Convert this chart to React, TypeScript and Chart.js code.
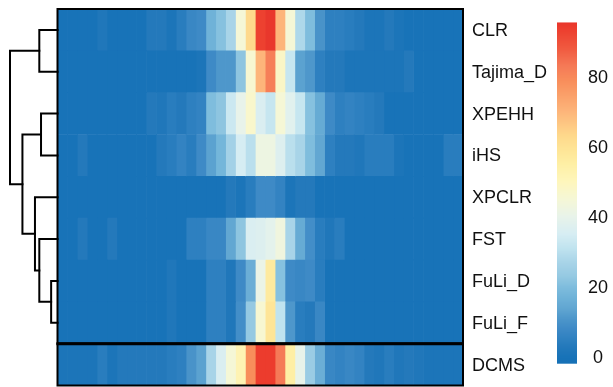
import React, { useEffect, useRef } from 'react';
import { Chart, registerables } from 'chart.js';

Chart.register(...registerables);

// ---------- data ----------
const rowLabels = ['CLR', 'Tajima_D', 'XPEHH', 'iHS', 'XPCLR', 'FST', 'FuLi_D', 'FuLi_F', 'DCMS'];

const CLR = [0, 0, 0, 0, 2, 0, 0, 0, 0, 3, 3, 1, 4, 7, 8, 17, 21, 27, 45, 63, 93, 95, 70, 45, 28, 20, 10, 5, 5, 4, 3, 1, 1, 3, 1, 0, 0, 0, 0, 0, 0];
const Tajima_D = [0, 0, 0, 0, 0, 0, 0, 0, 0, 0, 0, 0, 0, 0, 1, 8, 11, 11, 22, 46, 70, 82, 48, 32, 13, 11, 5, 3, 3, 1, 1, 1, 1, 1, 1, 3, 0, 0, 0, 0, 0];
const XPEHH = [0, 0, 0, 0, 0, 0, 0, 0, 0, 3, 2, 4, 3, 5, 6, 20, 22, 33, 40, 47, 36, 32, 45, 38, 32, 21, 15, 8, 5, 6, 5, 4, 3, 0, 0, 0, 0, 0, 0, 0, 0];
const iHS = [0, 0, 3, 0, 0, 0, 0, 0, 0, 0, 3, 4, 6, 4, 8, 13, 18, 26, 35, 30, 42, 42, 37, 30, 27, 20, 14, 5, 3, 3, 2, 4, 4, 4, 1, 0, 0, 0, 0, 4, 4];
const XPCLR = [0, 0, 0, 0, 0, 0, 0, 0, 0, 0, 0, 0, 0, 0, 0, 0, 0, 3, 1, 4, 8, 8, 6, 1, 3, 3, 0, 0, 0, 0, 0, 0, 0, 0, 0, 0, 0, 0, 0, 0, 0];
const FST = [0, 0, 3, 0, 0, 3, 0, 0, 0, 0, 0, 0, 0, 5, 5, 7, 7, 14, 22, 36, 37, 39, 43, 27, 15, 9, 4, 2, 4, 0, 0, 0, 0, 0, 0, 0, 0, 0, 0, 0, 0];
const FuLi_D = [0, 0, 0, 0, 0, 0, 0, 0, 0, 0, 0, 2, 0, 0, 0, 5, 5, 2, 8, 16, 41, 57, 21, 8, 7, 8, 4, 0, 0, 0, 0, 0, 0, 0, 0, 0, 0, 0, 0, 0, 0];
const FuLi_F = [0, 0, 0, 0, 0, 0, 0, 0, 0, 0, 0, 2, 0, 0, 0, 5, 5, 2, 9, 23, 46, 59, 31, 11, 4, 3, 7, 0, 0, 0, 0, 0, 0, 0, 0, 0, 0, 0, 0, 0, 0];
const DCMS = [1, 1, 1, 1, 4, 1, 3, 3, 3, 3, 3, 4, 5, 10, 13, 27, 36, 45, 52, 79, 94, 94, 83, 55, 40, 24, 16, 7, 6, 7, 6, 3, 2, 4, 2, 3, 2, 1, 1, 1, 1];

const rowValues = [CLR, Tajima_D, XPEHH, iHS, XPCLR, FST, FuLi_D, FuLi_F, DCMS];
const mainRowCount = 8;

const legendTicks = [0, 20, 40, 60, 80];
const colorMin = -2;
const colorMax = 95.5;

// hclust-style dendrogram (negative = leaf index+1, positive = earlier merge)
const dendroMerge = [[-7, -8], [-3, -4], [-1, -2], [-6, 1], [-5, 4], [2, 5], [3, 6]];
const dendroHeight = [0.63, 1.63, 1.8, 1.8, 2.23, 3.47, 4.7];

// ---------- colour scale ----------
const colorStops: [number, string][] = [
  [-2, '#1570B6'], [0, '#1873B8'], [3, '#2479BB'], [5, '#2E80C0'], [8, '#3E8AC6'],
  [11, '#4E97CB'], [14, '#62A7D2'], [17, '#6FB2D8'], [20, '#7FBDDD'], [23, '#95C9E2'],
  [27, '#A8D4E8'], [31, '#C0E3EF'], [35, '#D6EDF3'], [40, '#E8F3EA'], [45, '#F5F7D6'],
  [50, '#FEF6BC'], [55, '#FEEFA5'], [59, '#FEE597'], [63, '#FED98C'], [70, '#FDB57A'],
  [79, '#F88D5B'], [83, '#F57A57'], [88, '#F05A40'], [94, '#EC3C2D'], [95.5, '#E8352B'],
];
function hexRgb(h: string) {
  return [parseInt(h.slice(1, 3), 16), parseInt(h.slice(3, 5), 16), parseInt(h.slice(5, 7), 16)];
}
function colorFor(v: number) {
  if (v <= colorStops[0][0]) return colorStops[0][1];
  for (let i = 1; i < colorStops.length; i++) {
    if (v <= colorStops[i][0]) {
      const [v0, c0] = colorStops[i - 1];
      const [v1, c1] = colorStops[i];
      const t = (v - v0) / (v1 - v0);
      const a = hexRgb(c0), b = hexRgb(c1);
      const r = a.map((x, k) => Math.round(x + (b[k] - x) * t));
      return `rgb(${r[0]},${r[1]},${r[2]})`;
    }
  }
  return colorStops[colorStops.length - 1][1];
}

export default function App() {
  const ref = useRef<HTMLCanvasElement>(null);
  useEffect(() => {
    const canvas = ref.current!;
    const nCols = rowValues[0].length;
    const datasets = Array.from({ length: nCols }, (_, c) => ({
      label: 'c' + c,
      data: rowValues.map(() => 1),
      backgroundColor: rowValues.map((r) => colorFor(r[c])),
      borderWidth: 0,
      barPercentage: 1,
      categoryPercentage: 1,
      stack: 'heat',
    }));

    const overlay = {
      id: 'overlay',
      afterDraw(chart: any) {
        const ctx = chart.ctx as CanvasRenderingContext2D;
        const { left, right, top, bottom } = chart.chartArea;
        const ys = chart.scales.y;
        const rowH = (bottom - top) / rowLabels.length;
        const sepY = top + mainRowCount * rowH;
        ctx.save();
        // borders
        ctx.strokeStyle = '#000';
        ctx.lineWidth = 2;
        ctx.strokeRect(left, top, right - left, sepY - top);
        ctx.strokeRect(left, sepY, right - left, bottom - sepY);
        ctx.lineWidth = 3;
        ctx.beginPath();
        ctx.moveTo(left - 1, sepY);
        ctx.lineTo(right + 1, sepY);
        ctx.stroke();

        // row labels
        ctx.fillStyle = '#111';
        ctx.font = '18px "Liberation Sans", Arial, sans-serif';
        ctx.textBaseline = 'middle';
        ctx.textAlign = 'left';
        rowLabels.forEach((lab, i) => ctx.fillText(lab, right + 9, ys.getPixelForValue(i) + 1));

        // dendrogram
        const maxH = Math.max(...dendroHeight);
        const xLeaf = left;
        const xRoot = 10;
        const hx = (h: number) => xLeaf - (h / maxH) * (xLeaf - xRoot);
        const nodeY: number[] = [];
        const nodeX: number[] = [];
        const pos = (id: number) =>
          id < 0 ? [xLeaf, ys.getPixelForValue(-id - 1)] : [nodeX[id - 1], nodeY[id - 1]];
        ctx.lineWidth = 2;
        ctx.lineCap = 'square';
        dendroMerge.forEach(([a, b], k) => {
          const [xa, ya] = pos(a);
          const [xb, yb] = pos(b);
          const x = hx(dendroHeight[k]);
          ctx.beginPath();
          ctx.moveTo(xa, ya);
          ctx.lineTo(x, ya);
          ctx.lineTo(x, yb);
          ctx.lineTo(xb, yb);
          ctx.stroke();
          nodeX.push(x);
          nodeY.push((ya + yb) / 2);
        });

        // colour bar legend
        const barX = 557, barW = 20;
        const pxPerUnit = 3.5, zeroY = 356.7;
        const vy = (v: number) => zeroY - v * pxPerUnit;
        const yTop = vy(colorMax), yBot = vy(colorMin);
        for (let y = Math.floor(yTop); y < Math.ceil(yBot); y++) {
          const v = (zeroY - (y + 0.5)) / pxPerUnit;
          ctx.fillStyle = colorFor(Math.max(colorMin, Math.min(colorMax, v)));
          const y0 = Math.max(y, yTop);
          const y1 = Math.min(y + 1, yBot);
          ctx.fillRect(barX, y0, barW, y1 - y0);
        }
        ctx.fillStyle = '#111';
        ctx.textAlign = 'center';
        legendTicks.forEach((t) => ctx.fillText(String(t), 598, vy(t) + 1));
        ctx.restore();
      },
    };

    const chart = new Chart(canvas, {
      type: 'bar',
      data: { labels: rowLabels, datasets },
      options: {
        indexAxis: 'y',
        responsive: false,
        animation: false,
        events: [],
        layout: { padding: { left: 57.5, right: 150, top: 9, bottom: 1.5 } },
        scales: {
          x: { type: 'linear', stacked: true, min: 0, max: nCols, display: false },
          y: { stacked: true, display: false },
        },
        plugins: { legend: { display: false }, tooltip: { enabled: false } },
      },
      plugins: [overlay],
    } as any);
    return () => chart.destroy();
  }, []);

  return (
    <div style={{ position: 'fixed', left: 0, top: 0, width: 613, height: 387, background: '#fff' }}>
      <canvas ref={ref} width={613} height={387} style={{ display: 'block', width: 613, height: 387 }} />
    </div>
  );
}
